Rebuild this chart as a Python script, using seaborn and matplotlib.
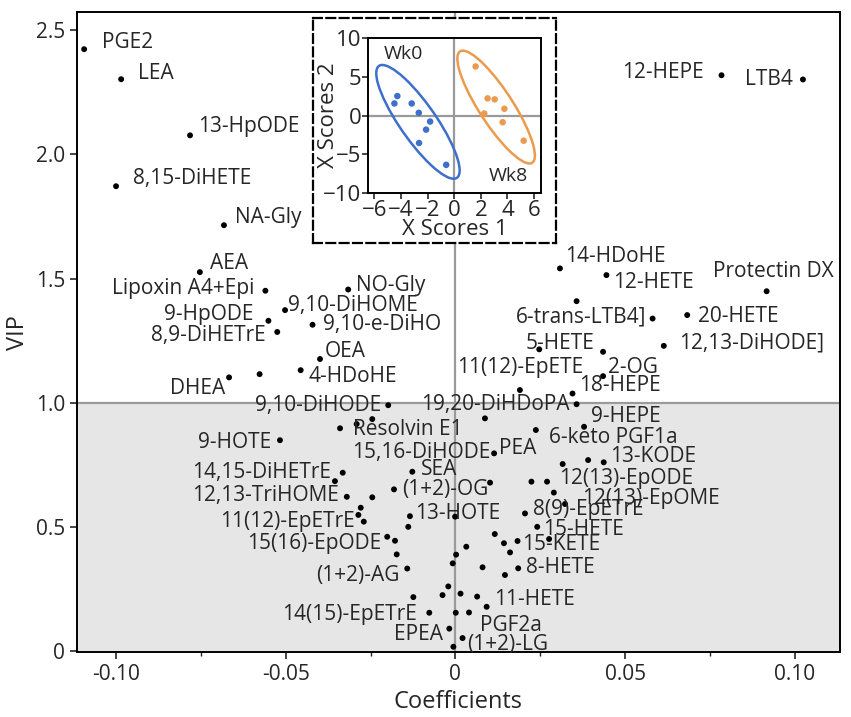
import numpy as np
import pandas as pd
import matplotlib
matplotlib.use('Agg')
import matplotlib.pyplot as plt
from matplotlib.patches import Ellipse
from matplotlib.ticker import MultipleLocator
import seaborn as sns

# VIP vs. coefficient, one row per metabolite ('' = unlabelled point)
names = ['PGE2', 'LEA', '13-HpODE', '8,15-DiHETE', 'NA-Gly', 'AEA', 'Lipoxin A4+Epi', 'NO-Gly',
         '9,10-DiHOME', '9-HpODE', '8,9-DiHETrE', '9,10-e-DiHO', 'OEA', '4-HDoHE', '', 'DHEA',
         '9,10-DiHODE', 'Resolvin E1', '', '', '9-HOTE', '15,16-DiHODE', 'PEA', '19,20-DiHDoPA',
         '18-HEPE', '11(12)-EpETE', '9-HEPE', '6-keto PGF1a', 'SEA', '(1+2)-OG', '13-HOTE', '',
         '13-KODE', '', '', '12(13)-EpODE', '', '', '', '12(13)-EpOME', '8(9)-EpETrE', '15-HETE',
         '', '', '15-KETE', '', '', '', '', '', '8-HETE', '', '', '', '', '', '', '11-HETE', '',
         '14(15)-EpETrE', '', 'PGF2a', 'EPEA', '(1+2)-LG', '', '(1+2)-AG', '15(16)-EpODE', '', '',
         '11(12)-EpETrE', '', '', '12,13-TriHOME', '', '14,15-DiHETrE', '', '', '14-HDoHE',
         '12-HETE', 'Protectin DX', '', '6-trans-LTB4]', '20-HETE', '12,13-DiHODE]', '5-HETE', '',
         '2-OG', '12-HEPE', 'LTB4']
coef = [-0.1094, -0.0985, -0.0782, -0.1000, -0.0682, -0.0753, -0.0560, -0.0316,
        -0.0502, -0.0551, -0.0525, -0.0421, -0.0399, -0.0456, -0.0577, -0.0667,
        -0.0198, -0.0291, -0.0245, -0.0340, -0.0517, 0.0087, 0.0114, 0.0357,
        0.0345, 0.0190, 0.0379, 0.0237, -0.0127, -0.0181, -0.0134, -0.0001,
        0.0437, 0.0391, 0.0316, 0.0270, 0.0224, 0.0102, 0.0290, 0.0323, 0.0205, 0.0241,
        0.0276, 0.0116, 0.0183, 0.0143, 0.0161, 0.0032, 0.0002, -0.0008, 0.0185, 0.0146,
        0.0080, -0.0021, -0.0038, 0.0015, 0.0064, 0.0092, -0.0124,
        -0.0077, 0.0001, 0.0040, -0.0018, 0.0021, -0.0006, -0.0142, -0.0201, -0.0178, -0.0173,
        -0.0286, -0.0279, -0.0270, -0.0320, -0.0245, -0.0332, -0.0355, -0.0139, 0.0308,
        0.0445, 0.0917, 0.0357, 0.0581, 0.0683, 0.0614, 0.0247, 0.0435,
        0.0435, 0.0784, 0.1024]
vip = [2.424, 2.303, 2.077, 1.872, 1.715, 1.526, 1.451, 1.456,
       1.373, 1.330, 1.285, 1.314, 1.176, 1.131, 1.115, 1.102,
       0.990, 0.914, 0.934, 0.897, 0.849, 0.937, 0.796, 0.994,
       1.037, 1.051, 0.903, 0.890, 0.722, 0.651, 0.543, 0.541,
       0.760, 0.769, 0.753, 0.682, 0.682, 0.678, 0.638, 0.592, 0.554, 0.500,
       0.451, 0.471, 0.443, 0.434, 0.397, 0.420, 0.388, 0.353, 0.333, 0.306,
       0.337, 0.260, 0.225, 0.231, 0.219, 0.178, 0.217,
       0.154, 0.154, 0.155, 0.090, 0.052, 0.017, 0.332, 0.460, 0.444, 0.389,
       0.548, 0.577, 0.521, 0.621, 0.619, 0.718, 0.684, 0.500, 1.541,
       1.514, 1.449, 1.409, 1.339, 1.353, 1.229, 1.215, 1.205,
       1.107, 2.319, 2.302]

# where each label sits relative to its point (pixels, alignment)
label_pos = {
    'PGE2': (18, 7, 'left'), 'LEA': (17, 6, 'left'), '13-HpODE': (8, 9, 'left'),
    '8,15-DiHETE': (17, 8, 'left'), 'NA-Gly': (11, 8, 'left'), 'AEA': (10, 9, 'left'),
    'Lipoxin A4+Epi': (-11, 2, 'right'), 'NO-Gly': (8, 4, 'left'), '9,10-DiHOME': (3, 5, 'left'),
    '9-HpODE': (-15, 6, 'right'), '8,9-DiHETrE': (-11, -4, 'right'), '9,10-e-DiHO': (10, 0, 'left'),
    'OEA': (5, 8, 'left'), '4-HDoHE': (8, -6, 'left'), 'DHEA': (-4, -11, 'right'),
    '9,10-DiHODE': (-7, 0, 'right'), 'Resolvin E1': (-4, -5, 'left'), '9-HOTE': (-9, -2, 'right'),
    '15,16-DiHODE': (5, -34, 'right'), 'PEA': (5, 5, 'left'), '19,20-DiHDoPA': (-7, 0, 'right'),
    '18-HEPE': (7, 8, 'left'), '11(12)-EpETE': (0, 23, 'center'), '9-HEPE': (7, 10, 'left'),
    '6-keto PGF1a': (13, -7, 'left'), 'SEA': (9, 2, 'left'), '(1+2)-OG': (8, 0, 'left'),
    '13-HOTE': (5, 3, 'left'), '13-KODE': (6, 6, 'left'), '12(13)-EpODE': (12, 3, 'left'),
    '12(13)-EpOME': (17, 6, 'left'), '8(9)-EpETrE': (8, 4, 'left'), '15-HETE': (6, -3, 'left'),
    '15-KETE': (5, -4, 'left'), '8-HETE': (8, 1, 'left'), '11-HETE': (7, 7, 'left'),
    'PGF2a': (11, -13, 'left'), '(1+2)-LG': (5, -6, 'left'), 'EPEA': (-6, -6, 'right'),
    '14(15)-EpETrE': (-12, -2, 'right'), '(1+2)-AG': (-8, -7, 'right'),
    '15(16)-EpODE': (-6, -7, 'right'), '11(12)-EpETrE': (-4, -7, 'right'),
    '12,13-TriHOME': (-8, 1, 'right'), '14,15-DiHETrE': (-12, 0, 'right'),
    '14-HDoHE': (5, 12, 'left'), '12-HETE': (7, -7, 'left'), 'Protectin DX': (7, 20, 'center'),
    '6-trans-LTB4]': (-6, 2, 'right'), '20-HETE': (11, -1, 'left'),
    '12,13-DiHODE]': (15, 3, 'left'), '5-HETE': (-14, 6, 'left'), '2-OG': (5, 9, 'left'),
    '12-HEPE': (-18, 3, 'right'), 'LTB4': (-10, 0, 'right'),
}

# inset: X scores of the two groups
wk0_x = [-4.27, -4.49, -3.19, -2.66, -1.81, -2.11, -2.64, -0.60]
wk0_y = [2.52, 1.56, 1.56, 0.35, -0.78, -1.83, -3.56, -6.39]
wk8_x = [1.61, 2.51, 3.04, 3.77, 2.26, 3.64, 5.22]
wk8_y = [6.35, 2.22, 2.09, 0.87, 0.26, -0.87, -3.26]
groups = ['Wk0', 'Wk8']
group_colors = {'Wk0': '#3d6fcc', 'Wk8': '#ec9a4e'}

sns.set_style('ticks')
plt.rcParams['font.family'] = ['Open Sans', 'DejaVu Sans']
FS = 15

df = pd.DataFrame({'name': names, 'coef': coef, 'vip': vip})

fig = plt.figure(figsize=(8.51, 7.17), dpi=100)
ax = fig.add_axes([0.0905, 0.0907, 0.8965, 0.8923])

ax.axhspan(-1, 1.0, color='#e6e6e6', zorder=0, lw=0)
ax.axhline(1.0, color='#9a9a9a', lw=1.6, zorder=1)
ax.axvline(0, color='#9a9a9a', lw=1.6, zorder=1)
sns.scatterplot(data=df, x='coef', y='vip', ax=ax, color='black', s=18, edgecolor='none', zorder=3)

for _, r in df.iterrows():
    if r['name'] == '':
        continue
    dx, dy, ha = label_pos[r['name']]
    ax.annotate(r['name'], (r['coef'], r['vip']), xytext=(dx, dy), textcoords='offset pixels',
                ha=ha, va='center', fontsize=FS, zorder=4)

ax.set_xlim(-0.1115, 0.1133)
ax.set_ylim(-0.004, 2.573)
ax.set_xticks([-0.1, -0.05, 0, 0.05, 0.1])
ax.set_xticklabels(['-0.10', '-0.05', '0', '0.05', '0.10'])
ax.xaxis.set_minor_locator(MultipleLocator(0.025))
ax.set_yticks([0, 0.5, 1.0, 1.5, 2.0, 2.5])
ax.set_yticklabels(['0', '0.5', '1.0', '1.5', '2.0', '2.5'])
ax.tick_params(labelsize=FS, width=1.2, length=5, direction='out')
ax.tick_params(which='minor', width=1.0, length=3)
ax.set_xlabel('Coefficients', fontsize=17)
ax.set_ylabel('VIP', fontsize=17)
for sp in ax.spines.values():
    sp.set_color('black')
    sp.set_linewidth(1.4)

# dashed frame around the score plot
box = fig.add_axes([0.368, 0.661, 0.285, 0.314])
box.set_facecolor('white')
box.set_xticks([])
box.set_yticks([])
for sp in box.spines.values():
    sp.set_linestyle((0, (4, 2)))
    sp.set_linewidth(1.6)
    sp.set_color('black')

ins = fig.add_axes([0.4328, 0.7312, 0.2026, 0.2154])
sc = pd.DataFrame({'x': wk0_x + wk8_x, 'y': wk0_y + wk8_y,
                   'week': ['Wk0'] * len(wk0_x) + ['Wk8'] * len(wk8_x)})
ins.axhline(0, color='#9a9a9a', lw=1.6, zorder=1)
ins.axvline(0, color='#9a9a9a', lw=1.6, zorder=1)
sns.scatterplot(data=sc, x='x', y='y', hue='week', palette=group_colors, ax=ins,
                s=22, edgecolor='none', legend=False, zorder=3)

# 95% confidence ellipses
k = np.sqrt(5.991)
for g in groups:
    pts = sc.loc[sc['week'] == g, ['x', 'y']].to_numpy()
    cov = np.cov(pts.T)
    vals, vecs = np.linalg.eigh(cov)
    ang = np.degrees(np.arctan2(vecs[1, 1], vecs[0, 1]))
    e = Ellipse(pts.mean(axis=0), 2 * k * np.sqrt(vals[1]), 2 * k * np.sqrt(vals[0]), angle=ang,
                fill=False, edgecolor=group_colors[g], lw=1.8, zorder=2)
    ins.add_patch(e)

ins.text(-5.3, 8.0, 'Wk0', fontsize=14, va='center')
ins.text(2.6, -7.8, 'Wk8', fontsize=14, va='center')
ins.set_xlim(-6.45, 6.5)
ins.set_ylim(-10, 10)
ins.set_xticks([-6, -4, -2, 0, 2, 4, 6])
ins.set_yticks([-10, -5, 0, 5, 10])
ins.tick_params(labelsize=16, width=1.2, length=4, pad=1)
ins.set_xlabel('X Scores 1', fontsize=16, labelpad=-1)
ins.set_ylabel('X Scores 2', fontsize=16)
ins.yaxis.set_label_coords(-0.17, 0.5)
for sp in ins.spines.values():
    sp.set_color('black')
    sp.set_linewidth(1.4)

fig.savefig('out.png', dpi=100)
